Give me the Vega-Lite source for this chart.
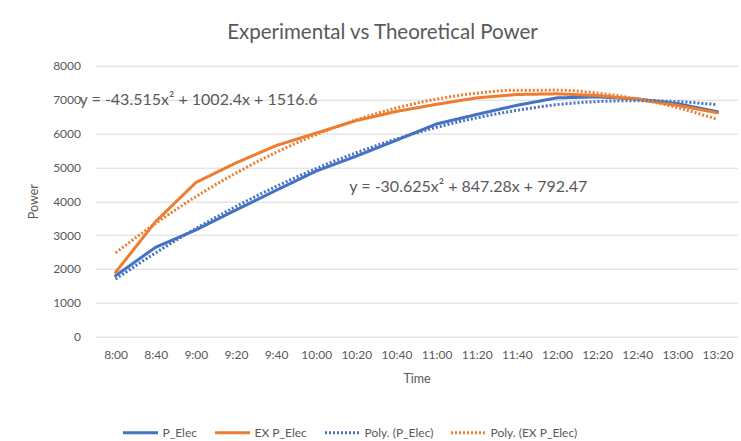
{
  "$schema": "https://vega.github.io/schema/vega-lite/v6.json",
  "width": 642,
  "height": 271,
  "autosize": {"type": "none"},
  "padding": {"left": 95.5, "top": 65.7, "right": 3.5, "bottom": 104.3},
  "background": "white",
  "title": {"text": "Experimental vs Theoretical Power", "fontSize": 20.5, "font": "Lato", "fontWeight": "normal", "color": "#595959", "anchor": "middle", "frame": "group", "dx": -34, "offset": 16},
  "config": {"view": {"stroke": null}, "font": "Lato"},
  "datasets": {
    "main": [
      {"t": "8:00", "series": "P_Elec", "power": 1800},
      {"t": "8:40", "series": "P_Elec", "power": 2640},
      {"t": "9:00", "series": "P_Elec", "power": 3150},
      {"t": "9:20", "series": "P_Elec", "power": 3740},
      {"t": "9:40", "series": "P_Elec", "power": 4320},
      {"t": "10:00", "series": "P_Elec", "power": 4890},
      {"t": "10:20", "series": "P_Elec", "power": 5330},
      {"t": "10:40", "series": "P_Elec", "power": 5800},
      {"t": "11:00", "series": "P_Elec", "power": 6280},
      {"t": "11:20", "series": "P_Elec", "power": 6560},
      {"t": "11:40", "series": "P_Elec", "power": 6830},
      {"t": "12:00", "series": "P_Elec", "power": 7050},
      {"t": "12:20", "series": "P_Elec", "power": 7080},
      {"t": "12:40", "series": "P_Elec", "power": 7020},
      {"t": "13:00", "series": "P_Elec", "power": 6880},
      {"t": "13:20", "series": "P_Elec", "power": 6640},
      {"t": "8:00", "series": "EX P_Elec", "power": 1900},
      {"t": "8:40", "series": "EX P_Elec", "power": 3400},
      {"t": "9:00", "series": "EX P_Elec", "power": 4550},
      {"t": "9:20", "series": "EX P_Elec", "power": 5130},
      {"t": "9:40", "series": "EX P_Elec", "power": 5640},
      {"t": "10:00", "series": "EX P_Elec", "power": 6010},
      {"t": "10:20", "series": "EX P_Elec", "power": 6380},
      {"t": "10:40", "series": "EX P_Elec", "power": 6650},
      {"t": "11:00", "series": "EX P_Elec", "power": 6860},
      {"t": "11:20", "series": "EX P_Elec", "power": 7050},
      {"t": "11:40", "series": "EX P_Elec", "power": 7150},
      {"t": "12:00", "series": "EX P_Elec", "power": 7170},
      {"t": "12:20", "series": "EX P_Elec", "power": 7120},
      {"t": "12:40", "series": "EX P_Elec", "power": 7010},
      {"t": "13:00", "series": "EX P_Elec", "power": 6830},
      {"t": "13:20", "series": "EX P_Elec", "power": 6610}
    ],
    "trend": [
      {"t": "8:00", "series": "Poly. (P_Elec)", "power": 1700},
      {"t": "8:40", "series": "Poly. (P_Elec)", "power": 2477},
      {"t": "9:00", "series": "Poly. (P_Elec)", "power": 3191},
      {"t": "9:20", "series": "Poly. (P_Elec)", "power": 3844},
      {"t": "9:40", "series": "Poly. (P_Elec)", "power": 4435},
      {"t": "10:00", "series": "Poly. (P_Elec)", "power": 4964},
      {"t": "10:20", "series": "Poly. (P_Elec)", "power": 5431},
      {"t": "10:40", "series": "Poly. (P_Elec)", "power": 5837},
      {"t": "11:00", "series": "Poly. (P_Elec)", "power": 6180},
      {"t": "11:20", "series": "Poly. (P_Elec)", "power": 6461},
      {"t": "11:40", "series": "Poly. (P_Elec)", "power": 6681},
      {"t": "12:00", "series": "Poly. (P_Elec)", "power": 6850},
      {"t": "12:20", "series": "Poly. (P_Elec)", "power": 6940},
      {"t": "12:40", "series": "Poly. (P_Elec)", "power": 6968},
      {"t": "13:00", "series": "Poly. (P_Elec)", "power": 6940},
      {"t": "13:20", "series": "Poly. (P_Elec)", "power": 6850},
      {"t": "8:00", "series": "Poly. (EX P_Elec)", "power": 2476},
      {"t": "8:40", "series": "Poly. (EX P_Elec)", "power": 3347},
      {"t": "9:00", "series": "Poly. (EX P_Elec)", "power": 4132},
      {"t": "9:20", "series": "Poly. (EX P_Elec)", "power": 4830},
      {"t": "9:40", "series": "Poly. (EX P_Elec)", "power": 5441},
      {"t": "10:00", "series": "Poly. (EX P_Elec)", "power": 5965},
      {"t": "10:20", "series": "Poly. (EX P_Elec)", "power": 6401},
      {"t": "10:40", "series": "Poly. (EX P_Elec)", "power": 6751},
      {"t": "11:00", "series": "Poly. (EX P_Elec)", "power": 7014},
      {"t": "11:20", "series": "Poly. (EX P_Elec)", "power": 7189},
      {"t": "11:40", "series": "Poly. (EX P_Elec)", "power": 7278},
      {"t": "12:00", "series": "Poly. (EX P_Elec)", "power": 7279},
      {"t": "12:20", "series": "Poly. (EX P_Elec)", "power": 7194},
      {"t": "12:40", "series": "Poly. (EX P_Elec)", "power": 7021},
      {"t": "13:00", "series": "Poly. (EX P_Elec)", "power": 6762},
      {"t": "13:20", "series": "Poly. (EX P_Elec)", "power": 6415}
    ],
    "note1": [
      {"t": "8:00", "power": 7000, "label": "y = -43.515x² + 1002.4x + 1516.6"}
    ],
    "note2": [
      {"t": "10:20", "power": 4420, "label": "y = -30.625x² + 847.28x + 792.47"}
    ]
  },
  "encoding": {
    "x": {
      "field": "t", "type": "nominal", "sort": null, "title": "Time",
      "scale": {"domain": ["8:00","8:40","9:00","9:20","9:40","10:00","10:20","10:40","11:00","11:20","11:40","12:00","12:20","12:40","13:00","13:20"], "padding": 0.5},
      "axis": {"labelAngle": 0, "domain": false, "ticks": false, "tickSize": 0, "grid": false, "labelPadding": 13, "labelFontSize": 12, "labelColor": "#595959", "labelFont": "Lato", "titleFont": "Lato", "titleFontWeight": "normal", "titleFontSize": 12.5, "titleColor": "#595959", "titlePadding": 12}
    },
    "y": {
      "field": "power", "type": "quantitative", "title": "Power",
      "scale": {"domain": [0, 8000], "nice": false},
      "axis": {"values": [0,1000,2000,3000,4000,5000,6000,7000,8000], "format": "d", "domain": false, "ticks": false, "tickSize": 0, "gridColor": "#D9D9D9", "gridWidth": 1, "labelPadding": 15, "labelFontSize": 12, "labelColor": "#595959", "labelFont": "Lato", "titleFont": "Lato", "titleFontWeight": "normal", "titleFontSize": 12.5, "titleColor": "#595959", "titlePadding": 12}
    }
  },
  "layer": [
    {
      "data": {"name": "main"},
      "mark": {"type": "line", "strokeCap": "round", "strokeJoin": "round"},
      "encoding": {
        "color": {"field": "series", "type": "nominal", "title": null,
          "scale": {"domain": ["P_Elec","EX P_Elec","Poly. (P_Elec)","Poly. (EX P_Elec)"], "range": ["#4472C4","#ED7D31","#4472C4","#ED7D31"]},
          "legend": {"orient": "none", "legendX": 26, "legendY": 348, "direction": "horizontal", "symbolType": "stroke", "symbolSize": 1225, "symbolStrokeWidth": 2.5, "labelFontSize": 12, "labelColor": "#595959", "labelFont": "Lato", "labelOffset": 3, "columnPadding": 11}},
        "strokeDash": {"field": "series", "type": "nominal", "title": null,
          "scale": {"domain": ["P_Elec","EX P_Elec","Poly. (P_Elec)","Poly. (EX P_Elec)"], "range": [[1,0],[1,0],[2,2],[2,2]]}},
        "strokeWidth": {"field": "series", "type": "nominal", "title": null,
          "scale": {"domain": ["P_Elec","EX P_Elec","Poly. (P_Elec)","Poly. (EX P_Elec)"], "range": [3,3,2,2]}}
      }
    },
    {
      "data": {"name": "trend"},
      "mark": {"type": "line", "interpolate": "monotone"},
      "encoding": {
        "color": {"field": "series", "type": "nominal", "title": null},
        "strokeDash": {"field": "series", "type": "nominal", "title": null},
        "strokeWidth": {"field": "series", "type": "nominal", "title": null}
      }
    },
    {
      "data": {"name": "note1"},
      "mark": {"type": "text", "align": "left", "baseline": "middle", "fontSize": 16, "font": "Lato", "color": "#595959", "dx": -36},
      "encoding": {"text": {"field": "label"}}
    },
    {
      "data": {"name": "note2"},
      "mark": {"type": "text", "align": "left", "baseline": "middle", "fontSize": 16, "font": "Lato", "color": "#595959", "dx": -7},
      "encoding": {"text": {"field": "label"}}
    }
  ]
}
